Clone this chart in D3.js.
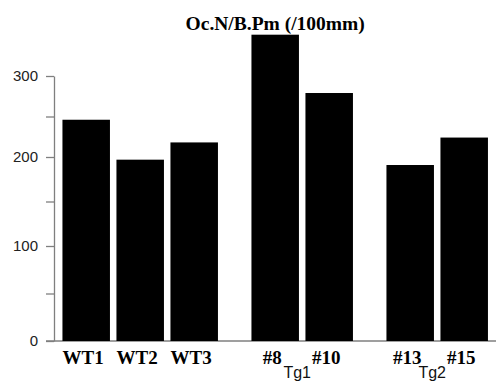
<!DOCTYPE html>
<html>
<head>
<meta charset="utf-8">
<script src="https://cdn.jsdelivr.net/npm/d3@7"></script>
<style>
  body { margin: 0; background: #fff; }
</style>
</head>
<body>
<div id="chart"></div>
<script>
// data
var categories = ["WT1", "WT2", "WT3", "#8", "#10", "#13", "#15"];
var groups = ["WT", "WT", "WT", "Tg1", "Tg1", "Tg2", "Tg2"];
var values = [246, 197, 218, 351, 279, 191, 224];
var groupLabels = ["Tg1", "Tg2"];
var yTicks = [0, 100, 200, 300];
var yMinorTicks = [50, 150, 250];
var title = "Oc.N/B.Pm (/100mm)";

var width = 496;
var height = 383;

var svg = d3.select("#chart")
    .append("svg")
    .attr("width", width)
    .attr("height", height);

// each group adds half a slot of space before it
var groupNames = Array.from(new Set(groups));
var slots = categories.map((c, i) => i + 0.5 * groupNames.indexOf(groups[i]));

var xScale = d3.scaleLinear()
    .domain([0, 7])
    .range([86.2, 464.2]);
var barWidth = 47.5;

// the source picture is slightly stretched, so the axis is piecewise
var yScale = d3.scaleLinear()
    .domain(yTicks)
    .range([341, 246, 157, 76]);

var axisX = 54;

// baseline
svg.append("line")
    .attr("x1", 46).attr("x2", width)
    .attr("y1", yScale(0)).attr("y2", yScale(0))
    .attr("stroke", "#7f7f7f").attr("stroke-width", 1.3);

// minor ticks
svg.append("g")
    .attr("transform", "translate(" + axisX + ",0)")
    .call(d3.axisLeft(yScale).tickValues(yMinorTicks).tickSize(8).tickSizeOuter(0).tickFormat(""))
    .call(g => g.select(".domain").remove())
    .call(g => g.selectAll("line").attr("stroke", "#7f7f7f").attr("stroke-width", 1.3));

// main axis
svg.append("g")
    .attr("transform", "translate(" + axisX + ",0)")
    .call(d3.axisLeft(yScale).tickValues(yTicks).tickSize(8).tickSizeOuter(0).tickPadding(8))
    .call(g => g.select(".domain").attr("stroke", "#7f7f7f").attr("stroke-width", 1.3))
    .call(g => g.selectAll("line").attr("stroke", "#7f7f7f").attr("stroke-width", 1.3))
    .call(g => g.selectAll("text")
        .attr("fill", "#222")
        .style("font-family", "'Liberation Sans', Arial, sans-serif")
        .style("font-size", "15px"));

// bars
svg.selectAll(".bar")
    .data(values)
    .enter().append("rect")
    .attr("class", "bar")
    .attr("x", (d, i) => xScale(slots[i]) - barWidth / 2)
    .attr("y", d => yScale(d))
    .attr("width", barWidth)
    .attr("height", d => yScale(0) - yScale(d))
    .attr("fill", "#000");

// category labels
svg.selectAll(".cat")
    .data(categories)
    .enter().append("text")
    .attr("class", "cat")
    .attr("x", (d, i) => xScale(slots[i]) - 3)
    .attr("y", 364)
    .attr("text-anchor", "middle")
    .style("font-family", "'Liberation Serif', 'Times New Roman', serif")
    .style("font-weight", "bold")
    .style("font-size", "19px")
    .text(d => d);

// group labels under the transgenic pairs
svg.selectAll(".grp")
    .data(groupLabels)
    .enter().append("text")
    .attr("class", "grp")
    .attr("x", g => d3.mean(slots.filter((s, i) => groups[i] === g), s => xScale(s)) - 5)
    .attr("y", 378)
    .attr("text-anchor", "middle")
    .attr("fill", "#111")
    .style("font-family", "'Liberation Sans', Arial, sans-serif")
    .style("font-size", "16px")
    .text(d => d);

// title
svg.append("text")
    .attr("x", (xScale(0) + xScale(7)) / 2)
    .attr("y", 30)
    .attr("text-anchor", "middle")
    .style("font-family", "'Liberation Serif', 'Times New Roman', serif")
    .style("font-weight", "bold")
    .style("font-size", "19.5px")
    .text(title);
</script>
</body>
</html>
